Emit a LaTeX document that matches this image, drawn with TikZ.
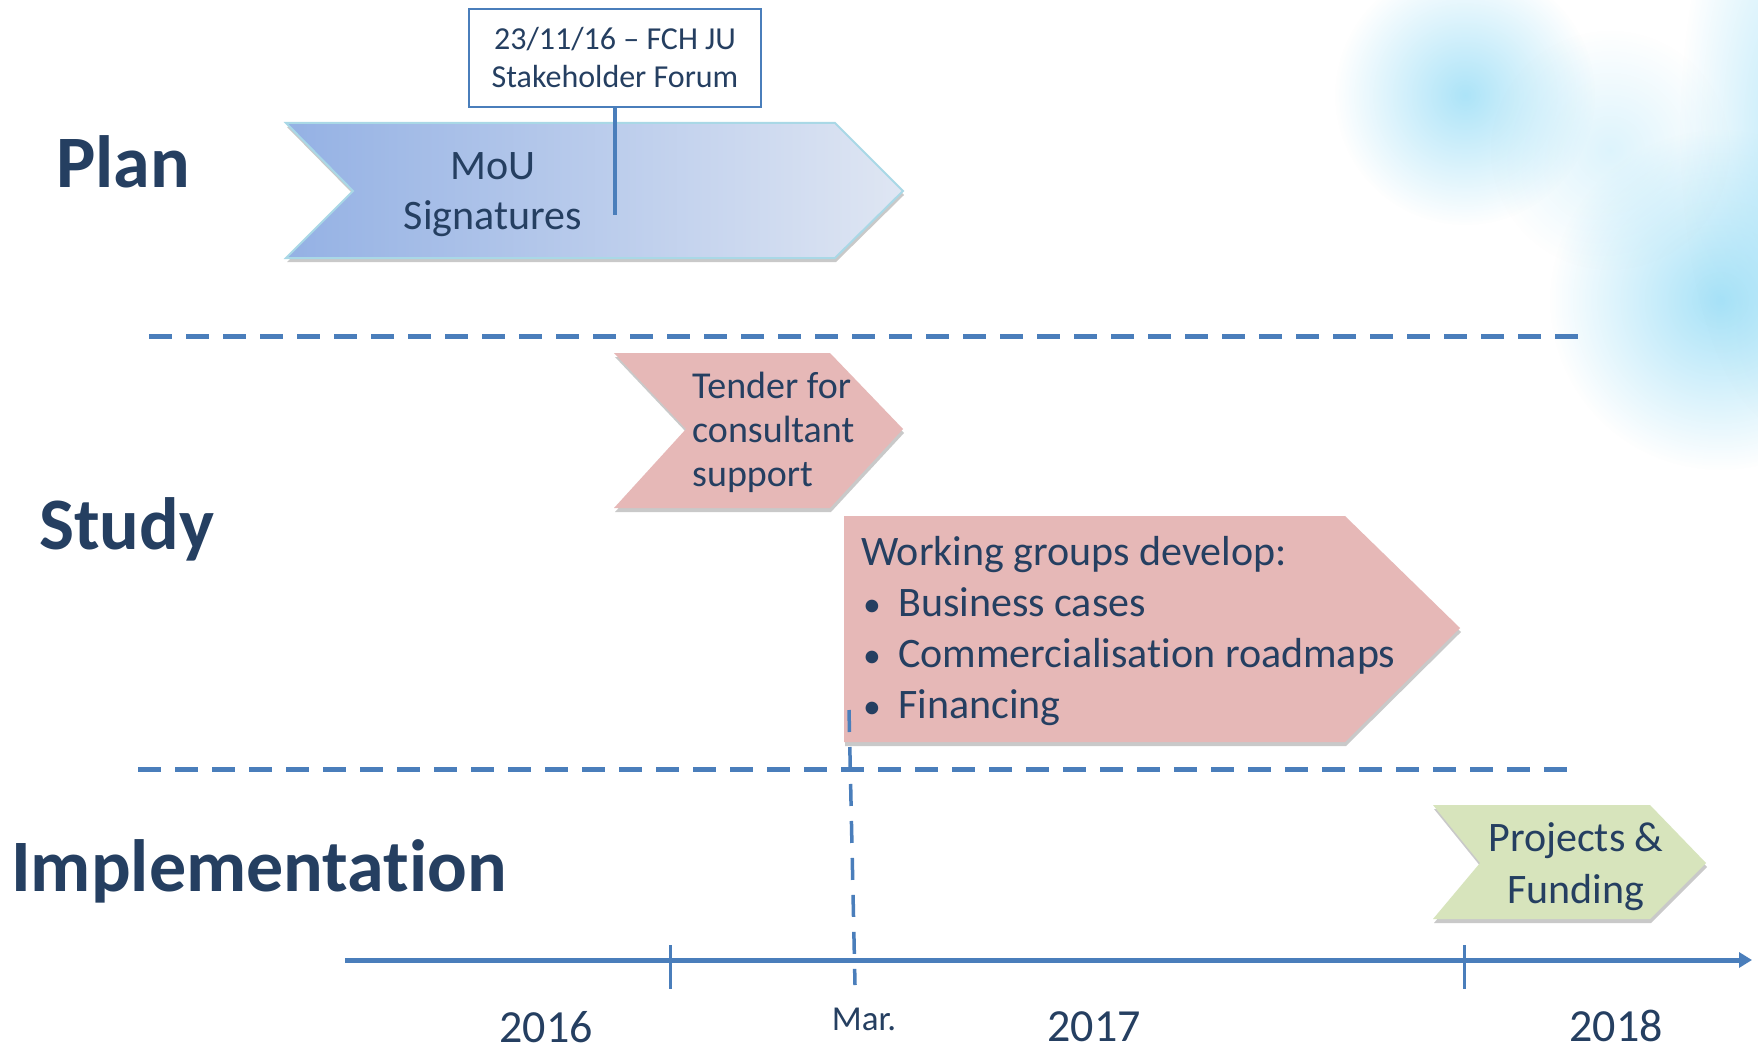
\documentclass[tikz,border=0pt]{standalone}
\usepackage{fontspec}
\setmainfont{Carlito}[Ligatures=CommonOff]
\usetikzlibrary{arrows.meta,shadows,fadings}
\definecolor{navy}{HTML}{253F61}
\definecolor{lineblue}{HTML}{4A7EBB}
\definecolor{pinkfill}{HTML}{E6B8B7}
\definecolor{greenfill}{HTML}{D7E4BC}
\definecolor{mouleft}{HTML}{94B1E4}
\definecolor{mouright}{HTML}{DFE6F3}
\definecolor{mouborder}{HTML}{A9D8E6}
\definecolor{blob}{HTML}{9EDFF7}
\tikzfading[name=softblob, inner color=transparent!0, outer color=transparent!100]
\begin{document}
\begin{tikzpicture}[x=1pt,y=-1pt,
  heading/.style={font=\fontsize{74}{88}\selectfont\bfseries, text=navy, inner sep=0pt, anchor=base west},
  sep/.style={draw=lineblue, line width=5pt, dash pattern=on 23pt off 14pt},
  marline/.style={draw=lineblue, line width=3.5pt, dash pattern=on 22pt off 15pt},
  axis/.style={draw=lineblue, line width=5pt},
  tick/.style={draw=lineblue, line width=3pt},
  conn/.style={draw=lineblue, line width=4pt},
  chevshadow/.style={drop shadow={shadow xshift=1pt, shadow yshift=-4pt, opacity=0.35, fill=black!60}},
  mouchev/.style={chevshadow, left color=mouleft, right color=mouright, draw=mouborder, line width=2pt},
  pinkchev/.style={chevshadow, fill=pinkfill},
  greenchev/.style={chevshadow, fill=greenfill},
  bodytext/.style={text=navy, inner sep=0pt},
  year/.style={text=navy, font=\fontsize{46}{55}\selectfont, inner sep=0pt},
  softfill/.style={fill=blob, path fading=softblob},
]
\useasboundingbox (0,0) rectangle (1758,1054);
\fill[white] (0,0) rectangle (1758,1054);

% background blobs
\fill[softfill, opacity=0.85] (1465,95) circle [radius=130pt];
\fill[softfill, opacity=0.9] (1720,300) circle [radius=170pt];
\fill[softfill, opacity=0.65] (1790,130) ellipse [x radius=110pt, y radius=300pt];
\fill[softfill, opacity=0.35] (1610,150) circle [radius=120pt];

% headings
\node[heading] (plan) at (56,187) {Plan};
\node[heading] (study) at (39,549) {Study};
\node[heading] (impl) at (11,891) {Implementation};

% separators
\coordinate (s1a) at (149,336);
\coordinate (s1b) at (1581,336);
\coordinate (s2a) at (138,769);
\coordinate (s2b) at (1570,769);
\draw[sep] (s1a) -- (s1b);
\draw[sep] (s2a) -- (s2b);

% MoU chevron
\path[mouchev] (286,123) -- (835,123) -- (903,191) -- (835,258) -- (286,258) -- (353,191) -- cycle;
\node[bodytext, align=center, font=\fontsize{42}{50}\selectfont] (mou) at (493,195) {MoU\\Signatures};

% forum box and connector
\node[draw=lineblue, line width=1.5pt, fill=white, minimum width=292pt, minimum height=98pt,
      align=center, font=\fontsize{32}{38}\selectfont, text=navy] (forum) at (615,58) {23/11/16 – FCH JU\\Stakeholder Forum};
\coordinate (forumend) at (615,215);
\draw[conn] (forum.south) -- (forumend);

% Tender chevron
\path[pinkchev] (614,353) -- (830,353) -- (903,429) -- (830,508) -- (614,508) -- (686,429) -- cycle;
\node[bodytext, align=left, anchor=west, font=\fontsize{38}{44}\selectfont] (tender) at (692,432) {Tender for\\consultant\\support};

% Working groups chevron
\path[pinkchev] (844,516) -- (1345,516) -- (1460,628) -- (1345,742) -- (844,742) -- cycle;
\node[bodytext, align=left, anchor=west, font=\fontsize{42}{51}\selectfont] (wg) at (861,631)
  {Working groups develop:\\
   \hspace*{2pt}\makebox[35pt][l]{\scalebox{0.85}{•}}Business cases\\
   \hspace*{2pt}\makebox[35pt][l]{\scalebox{0.85}{•}}Commercialisation roadmaps\\
   \hspace*{2pt}\makebox[35pt][l]{\scalebox{0.85}{•}}Financing};

% Projects chevron
\path[greenchev] (1433,805) -- (1650,805) -- (1706,863) -- (1650,919) -- (1433,919) -- (1480,863) -- cycle;
\node[bodytext, align=center, font=\fontsize{42}{52}\selectfont] (proj) at (1576,867) {Projects \&\\Funding};

% March marker
\coordinate (m1) at (849,710);
\coordinate (m2) at (855,985);
\draw[marline] (m1) -- (m2);

% time axis
\coordinate (axs) at (345,960);
\coordinate (axe) at (1752,960);
\draw[axis, -{Triangle[length=13pt,width=15pt]}] (axs) -- (axe);
\coordinate (t1a) at (670,945);
\coordinate (t1b) at (670,989);
\coordinate (t2a) at (1464,945);
\coordinate (t2b) at (1464,989);
\draw[tick] (t1a) -- (t1b);
\draw[tick] (t2a) -- (t2b);

% labels
\node[year] (y2016) at (546,1027) {2016};
\node[year] (y2017) at (1094,1027) {2017};
\node[year] (y2018) at (1616,1026) {2018};
\node[text=navy, font=\fontsize{35}{42}\selectfont, inner sep=0pt] (mar) at (864,1019) {Mar.};
\end{tikzpicture}
\end{document}
